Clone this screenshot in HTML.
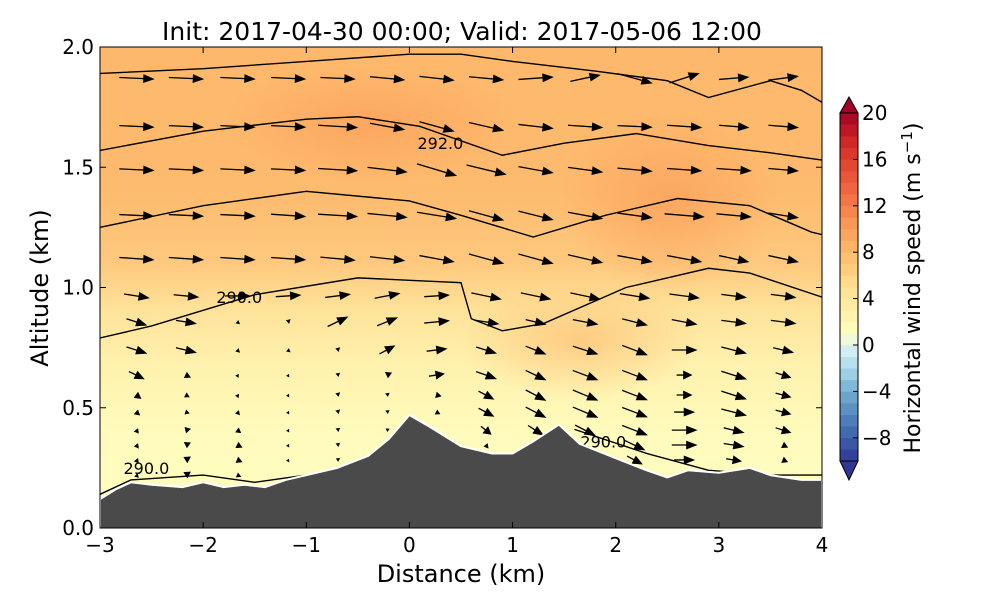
<!DOCTYPE html>
<html><head><meta charset="utf-8"><style>
body{margin:0;background:#fff;font-family:"DejaVu Sans","Liberation Sans",sans-serif}
svg text{font-family:"DejaVu Sans","Liberation Sans",sans-serif}
</style></head><body>
<svg id="chart" width="1000" height="600" viewBox="0 0 1000 600">
<defs>
<linearGradient id="bg" x1="0" y1="0" x2="0" y2="1">
<stop offset="0" stop-color="#fdb86c"/>
<stop offset="0.3" stop-color="#fdbb6e"/>
<stop offset="0.45" stop-color="#fdc97e"/>
<stop offset="0.55" stop-color="#fee39a"/>
<stop offset="0.66" stop-color="#fff1ad"/>
<stop offset="0.8" stop-color="#fffbbc"/>
<stop offset="1" stop-color="#fffcc0"/>
</linearGradient>
<radialGradient id="blob" cx="0.5" cy="0.5" r="0.5">
<stop offset="0" stop-color="#fca35d" stop-opacity="0.85"/>
<stop offset="1" stop-color="#fca35d" stop-opacity="0"/>
</radialGradient>
<radialGradient id="blob2" cx="0.5" cy="0.5" r="0.5">
<stop offset="0" stop-color="#fdc47a" stop-opacity="0.8"/>
<stop offset="1" stop-color="#fdc47a" stop-opacity="0"/>
</radialGradient>
<clipPath id="plotclip"><rect x="100" y="47" width="722" height="481"/></clipPath>
</defs>
<g clip-path="url(#plotclip)">
<rect x="100" y="47" width="722" height="481" fill="url(#bg)"/>
<ellipse cx="370" cy="125" rx="150" ry="60" fill="url(#blob)"/>
<ellipse cx="670" cy="200" rx="110" ry="90" fill="url(#blob)"/>
<ellipse cx="580" cy="340" rx="120" ry="60" fill="url(#blob2)"/>
<g id="contours"></g>
<g id="arrows"></g>
<polygon id="terrain" fill="#4a4a4a" stroke="#fff" stroke-width="2"/>
</g>
<rect x="100" y="47" width="722" height="481" fill="none" stroke="#000" stroke-width="1"/>
<g id="axes"></g>
<text x="462" y="40" font-size="25" text-anchor="middle">Init: 2017-04-30 00:00; Valid: 2017-05-06 12:00</text>
<text x="461" y="582" font-size="24" text-anchor="middle">Distance (km)</text>
<text transform="translate(48,288) rotate(-90)" font-size="24" text-anchor="middle">Altitude (km)</text>
<g id="cbar"></g>
<text transform="translate(920,288) rotate(-90)" font-size="22" text-anchor="middle">Horizontal wind speed (m s<tspan dy="-8" font-size="15">−1</tspan><tspan dy="8">)</tspan></text>
</svg>
<script>
const xTicks=[-3,-2,-1,0,1,2,3,4];
const yTicks=[0.0,0.5,1.0,1.5,2.0];
const cbTicks=[20,16,12,8,4,0,-4,-8];
const terrainX=[-3,-2.85,-2.7,-2.5,-2.2,-2.0,-1.8,-1.6,-1.4,-1.2,-1.0,-0.7,-0.4,-0.2,0,0.2,0.5,0.8,1.0,1.2,1.45,1.65,2.0,2.3,2.5,2.7,3.0,3.3,3.5,3.8,4.0];
const terrainZ=[0.12,0.16,0.19,0.18,0.17,0.19,0.17,0.18,0.17,0.2,0.22,0.25,0.3,0.37,0.47,0.42,0.34,0.31,0.31,0.36,0.43,0.35,0.29,0.24,0.21,0.24,0.23,0.25,0.22,0.2,0.2];
const line1X=[-3,-2,-1,0,0.5,1,1.8,2.5,2.9,3.5,3.8,4.0];
const line1Z=[1.89,1.91,1.94,1.97,1.97,1.94,1.9,1.86,1.79,1.86,1.82,1.77];
const line2X=[-3,-2,-1,-0.5,0.1,0.9,1.5,2.2,2.9,3.5,4.0];
const line2Z=[1.57,1.65,1.7,1.71,1.67,1.55,1.6,1.64,1.59,1.56,1.53];
const line3X=[-3,-2,-1,0,0.5,1.2,1.9,2.6,3.3,3.9,4.0];
const line3Z=[1.25,1.34,1.4,1.36,1.3,1.21,1.3,1.37,1.34,1.23,1.22];
const line4X=[-3,-2.5,-1.5,-0.5,0,0.5,0.6,0.9,1.3,2.1,2.9,3.3,4.0];
const line4Z=[0.79,0.84,0.97,1.04,1.03,1.02,0.87,0.82,0.85,1.0,1.08,1.06,0.96];
const line5aX=[-3,-2.7,-2.0,-1.5,-1.0,-0.7];
const line5aZ=[0.14,0.2,0.22,0.19,0.22,0.24];
const line5bX=[1.6,2.3,2.9,3.5,4.0];
const line5bZ=[0.41,0.31,0.24,0.22,0.22];
const arrowCols=[-2.65,-2.17,-1.67,-1.18,-0.7,-0.22,0.26,0.74,1.22,1.7,2.18,2.66,3.14,3.62];
const arrowRows=[1.87,1.67,1.49,1.3,1.12,0.965,0.857,0.74,0.636,0.553,0.482,0.407,0.345,0.283,0.22];
const arrowU=[
[7,7,7,7,7,7,7,7,7,6,7,6,6,6],
[7,7,7,7,8,7,7,7,7,7,7,7,6,6],
[7,7,7,7,8,8,8,8,7,7,7,7,7,6],
[7,7,7,7,8,8,8,7,7,7,7,8,7,6],
[7,7,7,7,7,7,7,7,7,7,7,7,6,6],
[5,5,5,5,5,5,5,6,6,6,6,6,5,5],
[4,4,1,1,4,4,5,5,4,5,5,5,5,5],
[4,4,1,1,1,3,4,4,4,5,5,5,5,4],
[3,2,0.5,0.5,1,2,3,4,4,5,5,3,5,3],
[2,1.5,0.5,0.5,1,1,2,3,4,5,5,3,5,3],
[1.5,1.5,1,0.5,1,1,1.5,3,4,5,5,4,5,3],
[1,2,1.5,0.5,1,1,1,2,3,4,5,5,4,3],
[1,2,2,0.5,1,1,1,1,2,3,4,5,4,2],
[1,2,2,0.5,1,1,1,1,1,2,3,4,3,2],
[1,2,1.5,0.5,1,1,1,1,1,1,2,3,2,1]];
const arrowW=[
[-0.2,-0.2,-0.2,-0.2,-0.2,-0.4,-0.5,-0.4,0.3,0.8,-1.2,1.2,0.3,0.5],
[-0.2,-0.2,-0.2,-0.2,-0.3,-0.8,-1.2,-1,-0.5,-0.3,-0.2,-0.3,-0.3,-0.3],
[-0.2,-0.2,-0.2,-0.2,-0.3,-0.6,-1.5,-1.2,-0.8,-0.6,-0.4,-0.3,-0.3,-0.3],
[-0.2,-0.2,-0.2,-0.3,-0.3,-0.5,-0.8,-1.2,-1.1,-0.8,-0.6,-0.4,-0.4,-0.6],
[-0.3,-0.3,-0.3,-0.3,-0.4,-0.5,-0.8,-1.2,-1.2,-1,-0.8,-0.8,-0.8,-0.8],
[-0.5,-0.3,0,0.2,0.4,0.6,0.2,-0.8,-0.8,-0.8,-0.6,-0.5,-0.4,-0.4],
[-0.8,-0.4,-0.5,0.6,1.2,1.0,0.3,-0.5,-0.6,-0.6,-0.8,-0.6,-0.4,-0.4],
[-0.8,-0.6,-0.6,-0.5,0.6,1.0,0.3,-0.8,-1.0,-1.0,-1.2,0,-0.8,-0.6],
[-0.9,-0.6,-0.6,-0.5,0.5,0.6,0.3,-0.9,-1.2,-1.2,-1.2,0,-1.0,-0.6],
[-0.9,-0.5,-0.7,-0.5,0.6,0.5,-0.3,-1.0,-1.3,-1.3,-1.2,0,-1.0,-0.5],
[-0.8,-0.3,-0.7,-0.5,0.6,0.4,-0.5,-1.0,-1.3,-1.3,-1.2,0,-0.8,-0.5],
[-0.8,0.3,-0.7,-0.5,0.5,0.3,-0.5,-1.0,-1.2,-1.3,-1.2,0,-0.6,-0.6],
[-0.8,0.6,-0.6,-0.5,0.5,0.3,-0.5,-0.8,-1.0,-1.2,-1.2,0,-0.4,-0.6],
[-0.8,0.8,-0.5,-0.5,0.4,0.3,-0.4,-0.6,-0.8,-1.0,-1.0,0,-0.3,-0.5],
[-0.6,0.8,-0.4,-0.5,0.4,0.2,-0.4,-0.5,-0.6,-0.8,-0.8,0,-0.2,-0.4]];
const contourLabels=["292.0","290.0","290.0","290.0"];
const labelX=[0.3,-1.65,-2.55,1.88];
const labelZ=[1.6,0.96,0.25,0.36];

const NS="http://www.w3.org/2000/svg";
const X0=100,X1=822,Y0=528,Y1=47;
const sx=v=>X0+(v+3)/7*(X1-X0);
const sy=v=>Y0-v/2*(Y0-Y1);
function mk(tag,attrs,parent){const e=document.createElementNS(NS,tag);for(const k in attrs)e.setAttribute(k,attrs[k]);parent.appendChild(e);return e;}
function interp(xs,zs,x){for(let i=0;i<xs.length-1;i++){if(x>=xs[i]&&x<=xs[i+1]){const t=(x-xs[i])/(xs[i+1]-xs[i]);return zs[i]+t*(zs[i+1]-zs[i]);}}return zs[zs.length-1];}

const tp=terrainX.map((x,i)=>sx(x)+","+sy(terrainZ[i]));
tp.push(sx(4)+","+(sy(0)+5),sx(-3)+","+(sy(0)+5));
document.getElementById('terrain').setAttribute('points',tp.join(' '));

const cg=document.getElementById('contours');
[[line1X,line1Z],[line2X,line2Z],[line3X,line3Z],[line4X,line4Z],[line5aX,line5aZ],[line5bX,line5bZ]].forEach((l,i)=>{
  const p=mk('polyline',{points:l[0].map((x,j)=>sx(x)+","+sy(l[1][j])).join(' '),fill:'none',stroke:'#000','stroke-width':1.4},cg);
  
  
});
contourLabels.forEach((t,i)=>{
  const e=mk('text',{x:sx(labelX[i]),y:sy(labelZ[i])+6,'font-size':16,'text-anchor':'middle'},cg);
  e.textContent=t;
  
  
});

const ag=document.getElementById('arrows');
const S=4.8;
arrowRows.forEach((z,r)=>{arrowCols.forEach((x,c)=>{
  if(z<interp(terrainX,terrainZ,x)+0.02)return;
  const u=arrowU[r][c],w=arrowW[r][c];
  const x0=sx(x),y0=sy(z),dx=u*S,dy=-w*S*1.6;
  let L=Math.hypot(dx,dy);if(L<0.5)return;
  const ux=dx/L,uy=dy/L;
  const hl=Math.min(9,Math.max(2,L*0.5)),hw=Math.min(3.5,Math.max(1,L*0.28));
  const xe=x0+dx/2,ye=y0+dy/2,xs=x0-dx/2,ys=y0-dy/2;
  const bx=xe-ux*hl,by=ye-uy*hl;
  const pts=L>12?`${xs},${ys} ${bx},${by} ${bx-uy*hw},${by+ux*hw} ${xe},${ye} ${bx+uy*hw},${by-ux*hw} ${bx},${by}`:`${bx-uy*hw},${by+ux*hw} ${xe},${ye} ${bx+uy*hw},${by-ux*hw}`;
  const a=mk('polygon',{points:pts,fill:'#000',stroke:'#000','stroke-width':L>12?1.3:0.6,'stroke-linejoin':'miter'},ag);
  
  
});});

const ax=document.getElementById('axes');
xTicks.forEach(v=>{
  const X=sx(v);
  mk('line',{x1:X,x2:X,y1:Y0,y2:Y0-6,stroke:'#000'},ax);
  mk('line',{x1:X,x2:X,y1:Y1,y2:Y1+6,stroke:'#000'},ax);
  const t=mk('text',{x:X,y:552,'font-size':20,'text-anchor':'middle'},ax);
  t.textContent=(v<0?'−'+(-v):String(v));
  
  
});
yTicks.forEach(v=>{
  const Y=sy(v);
  mk('line',{x1:X0,x2:X0+6,y1:Y,y2:Y,stroke:'#000'},ax);
  mk('line',{x1:X1,x2:X1-6,y1:Y,y2:Y,stroke:'#000'},ax);
  const t=mk('text',{x:94,y:Y+7,'font-size':20,'text-anchor':'end'},ax);
  t.textContent=v.toFixed(1);
  
  
});

const cb=document.getElementById('cbar');
const stops=[[-10,[49,54,149]],[-7,[69,117,180]],[-4,[116,173,209]],[-2,[171,217,233]],[0,[224,243,248]],[1,[255,255,191]],[5,[254,224,144]],[9,[253,174,97]],[13,[244,109,67]],[17,[215,48,39]],[20,[165,0,38]]];
function cmap(v){for(let i=0;i<stops.length-1;i++){if(v<=stops[i+1][0]){const t=(v-stops[i][0])/(stops[i+1][0]-stops[i][0]);const c=stops[i][1].map((a,k)=>Math.round(a+t*(stops[i+1][1][k]-a)));return `rgb(${c})`;}}return 'rgb(165,0,38)';}
const CX=840,CW=18,cy=v=>345-v*11.6;
for(let v=-10;v<20;v++){
  const r=mk('rect',{x:CX,y:cy(v+1),width:CW,height:11.9,fill:cmap(v+0.5)},cb);
  
  
}
const tt=mk('polygon',{points:`${CX},${cy(20)} ${CX+CW/2},97 ${CX+CW},${cy(20)}`,fill:'#a50026',stroke:'#000'},cb);


const tb=mk('polygon',{points:`${CX},${cy(-10)} ${CX+CW/2},480 ${CX+CW},${cy(-10)}`,fill:'#313695',stroke:'#000'},cb);


mk('rect',{x:CX,y:cy(20),width:CW,height:cy(-10)-cy(20),fill:'none',stroke:'#000'},cb);
cbTicks.forEach(v=>{
  mk('line',{x1:CX+CW-5,x2:CX+CW,y1:cy(v),y2:cy(v),stroke:'#000'},cb);
  const t=mk('text',{x:CX+CW+4,y:cy(v)+7,'font-size':20},cb);
  t.textContent=(v<0?'−'+(-v):String(v));
  
  
});
</script>
</body></html>
